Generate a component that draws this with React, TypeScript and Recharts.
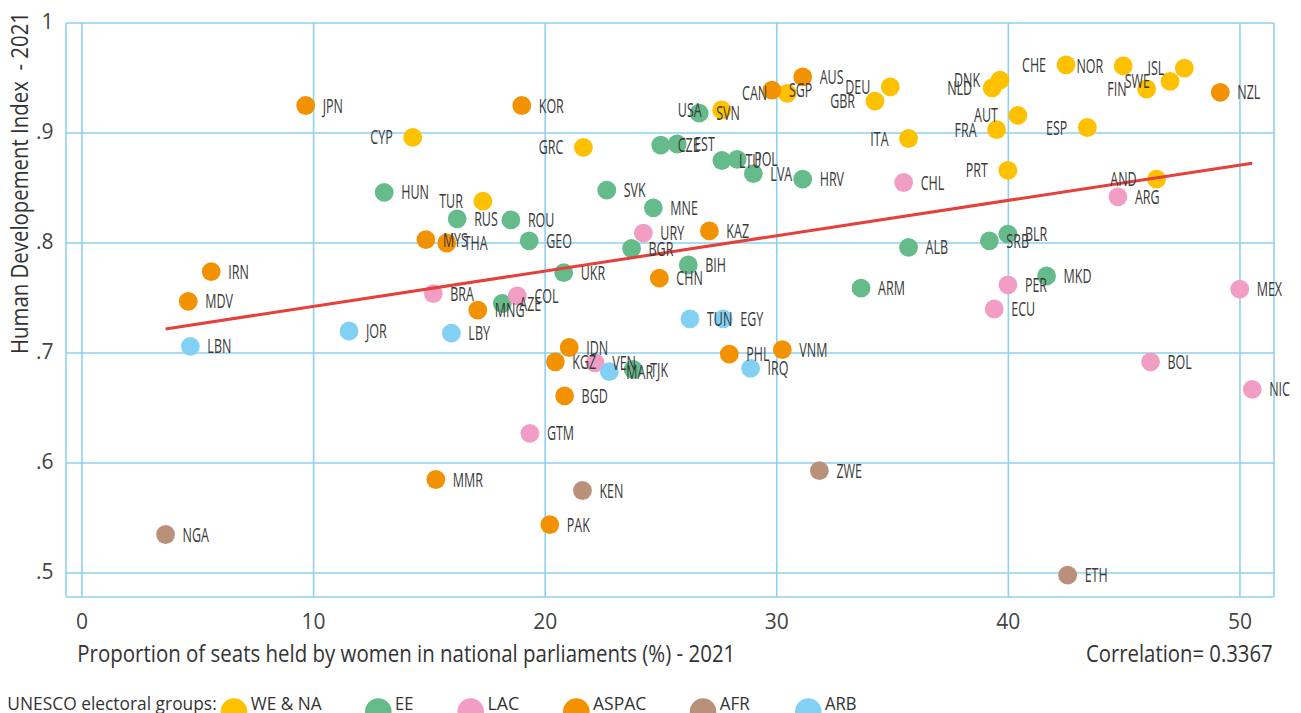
import React from 'react';
import { ScatterChart, Scatter, XAxis, YAxis, CartesianGrid, Legend } from 'recharts';

type Pt = [string, number, number];

// Proportion of seats held by women (%) , Human Development Index (2021)
const weNa: Pt[] = [
  ['USA', 27.62, 0.921], ['CAN', 30.45, 0.936], ['DEU', 34.9, 0.942], ['GBR', 34.24, 0.929],
  ['DNK', 39.64, 0.948], ['NLD', 39.3, 0.941], ['CHE', 42.49, 0.962], ['NOR', 44.96, 0.961],
  ['ISL', 47.6, 0.959], ['SWE', 46.98, 0.947], ['FIN', 45.97, 0.94], ['AUT', 40.41, 0.916],
  ['FRA', 39.49, 0.903], ['ESP', 43.41, 0.905], ['ITA', 35.69, 0.895], ['PRT', 39.98, 0.866],
  ['AND', 46.4, 0.858], ['CYP', 14.28, 0.896], ['GRC', 21.65, 0.887], ['TUR', 17.31, 0.838],
];
const ee: Pt[] = [
  ['SVN', 26.65, 0.918], ['CZE', 24.99, 0.889], ['EST', 25.7, 0.89], ['LTU', 27.63, 0.875],
  ['POL', 28.29, 0.876], ['LVA', 28.99, 0.863], ['HRV', 31.12, 0.858], ['HUN', 13.05, 0.846],
  ['SVK', 22.66, 0.848], ['MNE', 24.67, 0.832], ['RUS', 16.2, 0.822], ['ROU', 18.52, 0.821],
  ['GEO', 19.31, 0.802], ['BGR', 23.73, 0.795], ['BIH', 26.18, 0.78], ['UKR', 20.8, 0.773],
  ['ALB', 35.69, 0.796], ['SRB', 39.18, 0.802], ['BLR', 39.98, 0.808], ['MKD', 41.65, 0.77],
  ['ARM', 33.64, 0.759], ['AZE', 18.15, 0.745], ['TJK', 23.8, 0.685],
];
const lac: Pt[] = [
  ['URY', 24.24, 0.809], ['CHL', 35.48, 0.855], ['ARG', 44.73, 0.842], ['PER', 39.98, 0.762],
  ['ECU', 39.39, 0.74], ['MEX', 49.99, 0.758], ['BOL', 46.14, 0.692], ['NIC', 50.53, 0.667],
  ['BRA', 15.17, 0.754], ['COL', 18.8, 0.752], ['VEN', 22.16, 0.691], ['GTM', 19.34, 0.627],
];
const aspac: Pt[] = [
  ['JPN', 9.66, 0.925], ['KOR', 18.99, 0.925], ['SGP', 29.79, 0.939], ['AUS', 31.12, 0.951],
  ['NZL', 49.15, 0.937], ['KAZ', 27.09, 0.811], ['MYS', 14.85, 0.803], ['THA', 15.75, 0.8],
  ['IRN', 5.58, 0.774], ['MDV', 4.59, 0.747], ['CHN', 24.93, 0.768], ['MNG', 17.09, 0.739],
  ['IDN', 21.04, 0.705], ['KGZ', 20.44, 0.692], ['PHL', 27.95, 0.699], ['VNM', 30.24, 0.703],
  ['BGD', 20.84, 0.661], ['MMR', 15.28, 0.585], ['PAK', 20.2, 0.544],
];
const afr: Pt[] = [
  ['KEN', 21.61, 0.575], ['ZWE', 31.84, 0.593], ['NGA', 3.61, 0.535], ['ETH', 42.56, 0.498],
];
const arb: Pt[] = [
  ['JOR', 11.53, 0.72], ['LBY', 15.95, 0.718], ['LBN', 4.68, 0.706], ['TUN', 26.25, 0.731],
  ['EGY', 27.69, 0.731], ['MAR', 22.77, 0.683], ['IRQ', 28.87, 0.686],
];

const groupNames = ['WE & NA', 'EE', 'LAC', 'ASPAC', 'AFR', 'ARB'];
const groupColors = ['#FDC100', '#66BB8A', '#F29EC4', '#F39200', '#B9917B', '#83D0F5'];
const groupLabelSide = ['left', 'right', 'right', 'right', 'right', 'right'];
const groupPoints = [weNa, ee, lac, aspac, afr, arb];

const xTicks = [0, 10, 20, 30, 40, 50];
const yTicks = [0.5, 0.6, 0.7, 0.8, 0.9, 1];
const yTickLabels = ['.5', '.6', '.7', '.8', '.9', '1'];

const fitLine = [
  { x: 3.61, y: 0.7219 },
  { x: 50.53, y: 0.8726 },
];
const correlation = '0.3367';

const xTitle = 'Proportion of seats held by women in national parliaments (%) - 2021';
const yTitle = 'Human Developement Index  - 2021';
const legendTitle = 'UNESCO electoral groups:';

// style constants
const FONT = "'Open Sans', 'Noto Sans', sans-serif";
const GRID = '#8ED1F0';
const TEXT = '#333333';
const legendCx = [234, 378.3, 470.7, 576.3, 703, 808.3];
const legendTextW = [71, 18.3, 31.7, 53.3, 30, 31.6];

const groups = groupPoints.map((pts, i) =>
  pts.map(([code, x, y]) => ({ code, x, y, side: groupLabelSide[i] }))
);
const allPoints = groups.flat();

const XTick = (props: any) => {
  const { x, y, payload } = props;
  return (
    <text x={x} y={y + 32.3} textAnchor="middle" fontSize={21} fill="#444" fontFamily={FONT}>
      {payload.value}
    </text>
  );
};

const YTick = (props: any) => {
  const { x, y, payload } = props;
  const idx = yTicks.indexOf(payload.value);
  return (
    <text x={x - 12.5} y={y + 5.5} textAnchor="end" fontSize={21} fill="#444" fontFamily={FONT}>
      {idx >= 0 ? yTickLabels[idx] : payload.value}
    </text>
  );
};

const makeDot = (color: string) => (props: any) => {
  const { cx, cy } = props;
  if (cx == null || cy == null) return <g />;
  return <circle cx={cx} cy={cy} r={9.4} fill={color} />;
};

const LabelShape = (props: any) => {
  const { cx, cy, payload } = props;
  if (cx == null || cy == null) return <g />;
  const left = payload.side === 'left';
  const tx = left ? cx - 20 : cx + 17;
  return (
    <text
      transform={`translate(${tx},${cy}) scale(0.64,1)`}
      x={0}
      y={0}
      dy="0.36em"
      textAnchor={left ? 'end' : 'start'}
      fontSize={19.5}
      fill="#3a3a3a"
      fontFamily={FONT}
    >
      {payload.code}
    </text>
  );
};

const LegendContent = () => (
  <svg width={900} height={30} style={{ display: 'block' }}>
    <text
      x={7.3}
      y={27}
      fontSize={18.6}
      fill={TEXT}
      fontFamily={FONT}
      textLength={209.4}
      lengthAdjust="spacingAndGlyphs"
    >
      {legendTitle}
    </text>
    {groupNames.map((n, i) => (
      <g key={n}>
        <circle cx={legendCx[i]} cy={28.6} r={13.3} fill={groupColors[i]} />
        <text
          x={legendCx[i] + 16.7}
          y={27}
          fontSize={18.6}
          fill={TEXT}
          fontFamily={FONT}
          textLength={legendTextW[i]}
          lengthAdjust="spacingAndGlyphs"
        >
          {n}
        </text>
      </g>
    ))}
  </svg>
);

export default function App() {
  return (
    <div
      style={{
        position: 'absolute',
        left: 0,
        top: 0,
        width: 1301,
        height: 713,
        overflow: 'hidden',
        background: '#fff',
      }}
    >
      <ScatterChart width={1301} height={713} margin={{ top: 23, right: 27, bottom: 0, left: 0 }}>
        <CartesianGrid stroke={GRID} strokeWidth={1.6} />
        <XAxis
          type="number"
          dataKey="x"
          domain={[-0.69, 51.47]}
          ticks={xTicks}
          axisLine={false}
          tickLine={false}
          tickSize={0}
          tickMargin={0}
          height={116}
          tick={<XTick />}
          interval={0}
        />
        <YAxis
          type="number"
          dataKey="y"
          domain={[0.4782, 1.0]}
          ticks={yTicks}
          axisLine={false}
          tickLine={false}
          tickSize={0}
          tickMargin={0}
          width={66}
          tick={<YTick />}
          interval={0}
        />
        {groups.map((g, i) => (
          <Scatter
            key={groupNames[i]}
            name={groupNames[i]}
            data={g}
            fill={groupColors[i]}
            shape={makeDot(groupColors[i])}
            isAnimationActive={false}
          />
        ))}
        <Scatter
          name="fit"
          data={fitLine}
          line={{ stroke: '#E5403C', strokeWidth: 3 }}
          shape={() => <g />}
          legendType="none"
          isAnimationActive={false}
        />
        <Scatter
          name="labels"
          data={allPoints}
          shape={LabelShape}
          legendType="none"
          isAnimationActive={false}
        />
        <Legend
          layout="horizontal"
          verticalAlign="middle"
          align="center"
          content={LegendContent}
          wrapperStyle={{ position: 'absolute', left: 0, top: 683, width: 900, height: 30, margin: 0 }}
        />
      </ScatterChart>
      <svg
        width={1301}
        height={713}
        style={{ position: 'absolute', left: 0, top: 0, pointerEvents: 'none' }}
      >
        <text
          transform="translate(28.3,354) rotate(-90)"
          fontSize={23.4}
          fill={TEXT}
          fontFamily={FONT}
          textLength={342}
          lengthAdjust="spacingAndGlyphs"
          style={{ whiteSpace: 'pre' }}
        >
          {yTitle}
        </text>
        <text
          x={77.3}
          y={661.7}
          fontSize={23.4}
          fill={TEXT}
          fontFamily={FONT}
          textLength={658}
          lengthAdjust="spacingAndGlyphs"
        >
          {xTitle}
        </text>
        <text
          x={1272.7}
          y={661.7}
          textAnchor="end"
          fontSize={23.4}
          fill={TEXT}
          fontFamily={FONT}
          textLength={186.7}
          lengthAdjust="spacingAndGlyphs"
        >
          {`Correlation= ${correlation}`}
        </text>
      </svg>
    </div>
  );
}
